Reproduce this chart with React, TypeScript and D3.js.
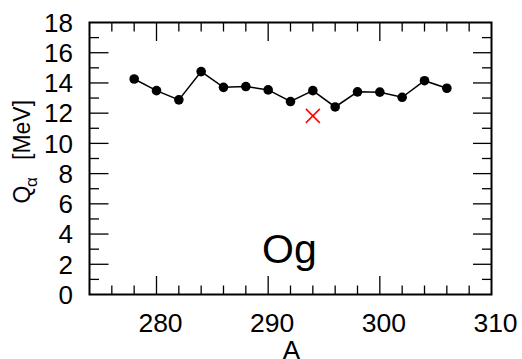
import React from "react";
import * as d3 from "d3";

const massNumbers = [278, 280, 282, 284, 286, 288, 290, 292, 294, 296, 298, 300, 302, 304, 306];
const qValues = [14.26, 13.49, 12.88, 14.75, 13.71, 13.76, 13.54, 12.77, 13.49, 12.41, 13.41, 13.39, 13.05, 14.15, 13.65];
const expA = [294];
const expQ = [11.82];
const xTickLabels = [280, 290, 300, 310];
const yTickLabels = [0, 2, 4, 6, 8, 10, 12, 14, 16, 18];
const elementLabel = "Og";

const W = 522;
const H = 359;
const L = 89.5, R = 491.5, T = 22.5, B = 294.5;

export default function App() {
  const x = d3.scaleLinear().domain([274, 310]).range([L, R]);
  const y = d3.scaleLinear().domain([0, 18]).range([B, T]);
  const line = d3.line<number>().x((_, i) => x(massNumbers[i])).y((d) => y(d));

  const xMinor = d3.range(276, 310, 2).filter((v) => v % 10 !== 0);
  const xMajor = [280, 290, 300];
  const yMinor = d3.range(1, 18, 2);
  const yMajor = d3.range(2, 18, 2);
  const font = "Liberation Sans, Arial, sans-serif";

  return (
    <svg width={W} height={H} style={{ position: "absolute", left: 0, top: 0 }} fontFamily={font}>
      <rect x={0} y={0} width={W} height={H} fill="white" />
      <g stroke="black" strokeWidth={1.3}>
        {xMinor.map((v) => (
          <g key={"xm" + v}>
            <line x1={x(v)} x2={x(v)} y1={B} y2={B - 9} />
            <line x1={x(v)} x2={x(v)} y1={T} y2={T + 9} />
          </g>
        ))}
        {xMajor.map((v) => (
          <g key={"xM" + v}>
            <line x1={x(v)} x2={x(v)} y1={B} y2={B - 18.5} />
            <line x1={x(v)} x2={x(v)} y1={T} y2={T + 18.5} />
          </g>
        ))}
        {yMinor.map((v) => (
          <g key={"ym" + v}>
            <line x1={L} x2={L + 9.5} y1={y(v)} y2={y(v)} />
            <line x1={R} x2={R - 9.5} y1={y(v)} y2={y(v)} />
          </g>
        ))}
        {yMajor.map((v) => (
          <g key={"yM" + v}>
            <line x1={L} x2={L + 19} y1={y(v)} y2={y(v)} />
            <line x1={R} x2={R - 18.5} y1={y(v)} y2={y(v)} />
          </g>
        ))}
      </g>
      <rect x={L} y={T} width={R - L} height={B - T} fill="none" stroke="black" strokeWidth={2} />
      {xTickLabels.map((v) => (
        <text key={"xl" + v} x={x(v) + 4} y={331.5} textAnchor="middle" style={{ fontSize: "26.5px" }}>
          {v}
        </text>
      ))}
      {yTickLabels.map((v) => (
        <text key={"yl" + v} x={73} y={y(v) + 9.3} textAnchor="end" style={{ fontSize: "26px" }}>
          {v}
        </text>
      ))}
      <text x={291.3} y={358.5} textAnchor="middle" style={{ fontSize: "26px" }}>A</text>
      <g transform="translate(29.5,203.5) rotate(-90)">
        <text x={0} y={0} style={{ fontSize: "23px" }}>Q</text>
        <text x={16.5} y={7} style={{ fontSize: "17px" }}>α</text>
        <text x={43.5} y={0} style={{ fontSize: "23px" }}>[MeV]</text>
      </g>
      <path d={line(qValues) ?? ""} fill="none" stroke="black" strokeWidth={1.5} />
      {qValues.map((v, i) => (
        <circle key={"p" + i} cx={x(massNumbers[i])} cy={y(v)} r={4.8} fill="black" />
      ))}
      {expQ.map((v, i) => {
        const cx = x(expA[i]);
        const cy = y(v);
        const s = 7;
        return (
          <g key={"e" + i} stroke="red" strokeWidth={1.5}>
            <line x1={cx - s} x2={cx + s} y1={cy - s} y2={cy + s} />
            <line x1={cx - s} x2={cx + s} y1={cy + s} y2={cy - s} />
          </g>
        );
      })}
      <text x={262} y={263} style={{ fontSize: "41px" }}>{elementLabel}</text>
    </svg>
  );
}
